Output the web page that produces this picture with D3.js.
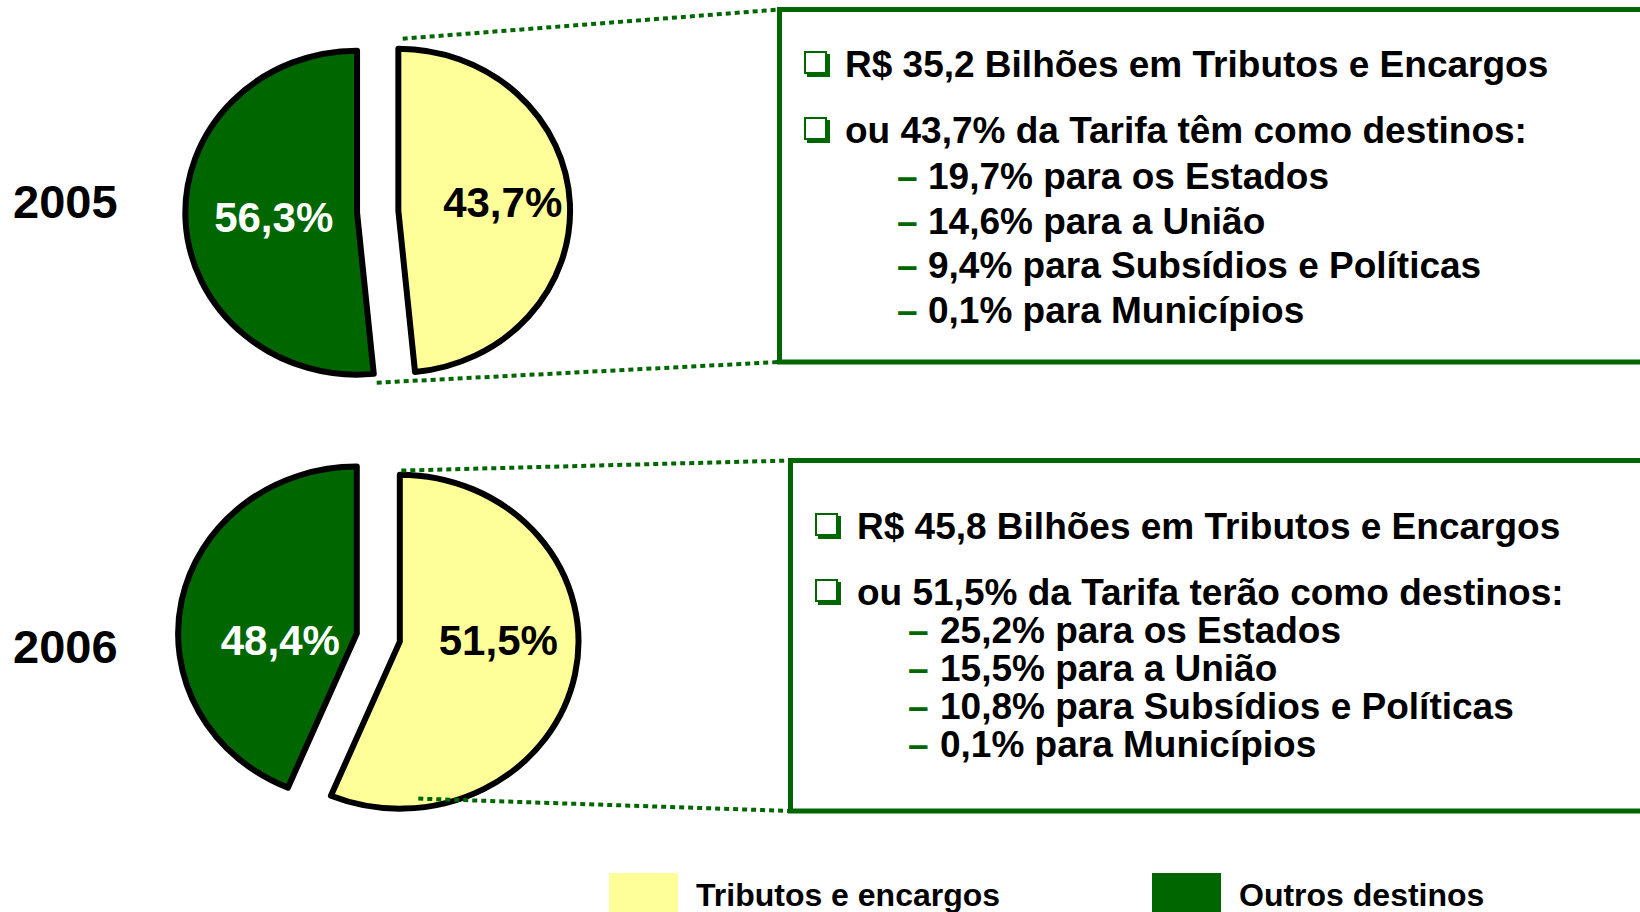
<!DOCTYPE html>
<html>
<head>
<meta charset="utf-8">
<script src="https://cdn.jsdelivr.net/npm/d3@7"></script>
<style>
  body { margin: 0; background: #ffffff; }
  svg { display: block; font-family: "Liberation Sans", Arial, sans-serif; font-weight: bold; }
</style>
</head>
<body>
<div id="chart"></div>
<script>
// ---- data ----
const years = ["2005", "2006"];
const tributosPct = [43.7, 51.5];      // printed on the yellow wedge
const outrosPct = [56.3, 48.4];        // printed on the green wedge
// wedge sizes as they are drawn in the original (they do not follow the printed labels)
const wedgeTributos = [48.4, 56.3];
const wedgeOutros = [51.5, 43.7];
const totalBilhoes = [35.2, 45.8];
const verbos = ["têm", "terão"];
const destinos = ["os Estados", "a União", "Subsídios e Políticas", "Municípios"];
const destinos2005 = [19.7, 14.6, 9.4, 0.1];
const destinos2006 = [25.2, 15.5, 10.8, 0.1];
const legendLabels = ["Tributos e encargos", "Outros destinos"];

// ---- look ----
const width = 1640;
const height = 912;
const yellow = "#ffff99";
const green = "#006600";

const ptBR = d3.formatLocale({ decimal: ",", thousands: ".", grouping: [3], currency: ["R$ ", ""] });
const pct = v => ptBR.format(".1f")(v) + "%";
const num = v => ptBR.format(".1f")(v);

// one layout entry per year (pies are a little wider than tall on the slide)
const layout = [
    {
        cx: 377.7, cy: 211.7, r: 162, stretch: 1.06, explode: 19.5, yearY: 218,
        labelTrib: [125, 5], labelOutros: [-104, 20],
        box: { x: 779.5, y: 9.5, bottom: 362 },
        headY: [77, 143], bulletX: 804, textX: 845,
        subY0: 189, subStep: 44.7, dashX: 897, subX: 928,
        connTop: [25, -173], connBottom: [-1, 171]
    },
    {
        cx: 378.3, cy: 637.6, r: 167, stretch: 1.07, explode: 20.5, yearY: 663,
        labelTrib: [120, 17], labelOutros: [-98, 17],
        box: { x: 790.5, y: 460.5, bottom: 811 },
        headY: [539, 605], bulletX: 815, textX: 857,
        subY0: 643, subStep: 38, dashX: 908, subX: 940,
        connTop: [23, -167], connBottom: [40, 161]
    }
];

const svg = d3.select("#chart")
    .append("svg")
    .attr("width", width)
    .attr("height", height)
    .attr("viewBox", `0 0 ${width} ${height}`);

const pie = d3.pie().sort(null).value(d => d.share);

const drawYear = (i) => {
    const L = layout[i];
    const slices = [
        { key: "trib", share: wedgeTributos[i], fill: yellow },
        { key: "outros", share: wedgeOutros[i], fill: green }
    ];
    const arc = d3.arc().innerRadius(0).outerRadius(L.r);

    // exploded pie
    const pieG = svg.append("g")
        .attr("transform", `translate(${L.cx}, ${L.cy}) scale(${L.stretch}, 1)`);

    pieG.selectAll("path")
        .data(pie(slices))
        .join("path")
        .attr("transform", d => {
            const mid = (d.startAngle + d.endAngle) / 2;
            return `translate(${Math.sin(mid) * L.explode}, ${-Math.cos(mid) * L.explode})`;
        })
        .attr("d", arc)
        .attr("fill", d => d.data.fill)
        .attr("stroke", "#000000")
        .attr("stroke-width", 6)
        .attr("stroke-linejoin", "round")
        .attr("vector-effect", "non-scaling-stroke");

    // dotted connectors from the yellow wedge to the box corners (drawn over the pie)
    const conn = [
        [[L.cx + L.connTop[0], L.cy + L.connTop[1]], [L.box.x, L.box.y]],
        [[L.cx + L.connBottom[0], L.cy + L.connBottom[1]], [L.box.x, L.box.bottom]]
    ];
    svg.append("g")
        .selectAll("line")
        .data(conn)
        .join("line")
        .attr("x1", d => d[0][0])
        .attr("y1", d => d[0][1])
        .attr("x2", d => d[1][0])
        .attr("y2", d => d[1][1])
        .attr("stroke", green)
        .attr("stroke-width", 4)
        .attr("stroke-dasharray", "5 4");

    // wedge labels
    svg.append("text")
        .attr("x", L.cx + L.labelTrib[0])
        .attr("y", L.cy + L.labelTrib[1])
        .attr("text-anchor", "middle")
        .style("font-size", "42px")
        .attr("fill", "#000000")
        .text(pct(tributosPct[i]));

    svg.append("text")
        .attr("x", L.cx + L.labelOutros[0])
        .attr("y", L.cy + L.labelOutros[1])
        .attr("text-anchor", "middle")
        .style("font-size", "42px")
        .attr("fill", "#ffffff")
        .text(pct(outrosPct[i]));

    // year
    svg.append("text")
        .attr("x", 13)
        .attr("y", L.yearY)
        .style("font-size", "47px")
        .attr("fill", "#000000")
        .text(years[i]);

    // text box
    svg.append("rect")
        .attr("x", L.box.x)
        .attr("y", L.box.y)
        .attr("width", width + 20 - L.box.x)
        .attr("height", L.box.bottom - L.box.y)
        .attr("fill", "none")
        .attr("stroke", green)
        .attr("stroke-width", 5);

    const heads = [
        `R$ ${num(totalBilhoes[i])} Bilhões em Tributos e Encargos`,
        `ou ${pct(tributosPct[i])} da Tarifa ${verbos[i]} como destinos:`
    ];

    // checkbox bullets (square with a drop shadow)
    const bullets = svg.append("g").selectAll("g")
        .data(L.headY)
        .join("g")
        .attr("transform", y => `translate(${L.bulletX}, ${y - 26})`);
    bullets.append("rect")
        .attr("x", 3).attr("y", 3)
        .attr("width", 23).attr("height", 23)
        .attr("fill", green);
    bullets.append("rect")
        .attr("x", 1).attr("y", 1)
        .attr("width", 21).attr("height", 21)
        .attr("fill", "#ffffff")
        .attr("stroke", green)
        .attr("stroke-width", 2);

    svg.append("g").selectAll("text")
        .data(heads)
        .join("text")
        .attr("x", L.textX)
        .attr("y", (d, j) => L.headY[j])
        .style("font-size", "37px")
        .attr("fill", "#000000")
        .text(d => d);

    const vals = i === 0 ? destinos2005 : destinos2006;
    const subs = svg.append("g").selectAll("g")
        .data(vals)
        .join("g");
    subs.append("text")
        .attr("x", L.dashX)
        .attr("y", (d, j) => L.subY0 + j * L.subStep)
        .style("font-size", "37px")
        .attr("fill", green)
        .text("–");
    subs.append("text")
        .attr("x", L.subX)
        .attr("y", (d, j) => L.subY0 + j * L.subStep)
        .style("font-size", "37px")
        .attr("fill", "#000000")
        .text((d, j) => `${pct(d)} para ${destinos[j]}`);
};

years.forEach((y, i) => drawYear(i));

// legend at the bottom
const legendX = [609, 1152];
const legend = svg.append("g").selectAll("g")
    .data(legendLabels)
    .join("g")
    .attr("transform", (d, i) => `translate(${legendX[i]}, 873)`);

legend.append("rect")
    .attr("width", 69)
    .attr("height", 60)
    .attr("fill", (d, i) => i === 0 ? yellow : green);

legend.append("text")
    .attr("x", 87)
    .attr("y", 33)
    .style("font-size", "32px")
    .attr("fill", "#000000")
    .text(d => d);
</script>
</body>
</html>
